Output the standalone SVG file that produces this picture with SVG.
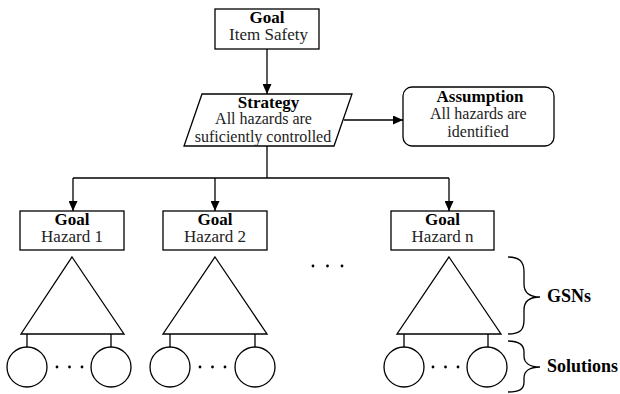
<svg xmlns="http://www.w3.org/2000/svg" width="620" height="394" viewBox="0 0 620 394">
<defs>
<marker id="ah" viewBox="0 0 10 10" refX="10" refY="5" markerWidth="10" markerHeight="9" markerUnits="userSpaceOnUse" orient="auto" preserveAspectRatio="none">
<path d="M0,0 L10,5 L0,10 z" fill="#000"/>
</marker>
<style>
.box{fill:#fff;stroke:#000;stroke-width:1.3}
.ln{fill:none;stroke:#000;stroke-width:1.3}
text{font-family:'Liberation Serif','Times New Roman',serif}
.t{font-size:17px;fill:#222;text-anchor:middle}
.s{font-size:16px;fill:#222;text-anchor:middle}
.b{font-size:17px;font-weight:bold;fill:#000;text-anchor:middle}
.bl{font-size:18px;font-weight:bold;fill:#000}
.dot{fill:#000}
</style>
</defs>
<g id="connectors">
<path class="ln" d="M267,49 V94" marker-end="url(#ah)"/>
<path class="ln" d="M344,120 H403" marker-end="url(#ah)"/>
<path class="ln" d="M267,146 V178"/>
<path class="ln" d="M73,178 H449"/>
<path class="ln" d="M73,178 V211" marker-end="url(#ah)"/>
<path class="ln" d="M215,178 V211" marker-end="url(#ah)"/>
<path class="ln" d="M449,178 V211" marker-end="url(#ah)"/>
</g>
<g id="goal-item">
<rect class="box" x="215" y="9" width="104" height="40"/>
<text class="b" x="267" y="22.5">Goal</text>
<text class="t" x="268.5" y="40">Item Safety</text>
</g>
<g id="strategy">
<polygon class="box" points="202,94 352,94 334,146 184,146"/>
<text class="b" x="268.5" y="107.5">Strategy</text>
<text class="s" x="263.5" y="124">All hazards are</text>
<text class="s" x="263" y="142">suficiently controlled</text>
</g>
<g id="assumption">
<rect class="box" x="403" y="87" width="151" height="59" rx="9"/>
<text class="b" x="480" y="101.5">Assumption</text>
<text class="s" x="478.3" y="119">All hazards are</text>
<text class="s" x="478" y="137">identified</text>
</g>
<g id="goal-h1">
<rect class="box" x="20" y="211" width="104" height="39"/>
<text class="b" x="72" y="224.5">Goal</text>
<text class="t" x="72" y="242">Hazard 1</text>
</g>
<g id="goal-h2">
<rect class="box" x="163" y="211" width="104" height="39"/>
<text class="b" x="215" y="224.5">Goal</text>
<text class="t" x="215" y="242">Hazard 2</text>
</g>
<g id="goal-hn">
<rect class="box" x="391" y="211" width="103" height="39"/>
<text class="b" x="442.5" y="224.5">Goal</text>
<text class="t" x="442.5" y="242">Hazard n</text>
</g>
<g id="gsn-1">
<polygon class="box" points="72,257 124,334 21,334"/>
<path class="ln" d="M27,334 V347 M111,334 V347"/>
<circle class="box" cx="27" cy="367" r="20"/>
<circle class="box" cx="111" cy="367" r="20"/>
<circle class="dot" cx="57" cy="367" r="1.4"/><circle class="dot" cx="69.5" cy="367" r="1.4"/><circle class="dot" cx="82" cy="367" r="1.4"/>
</g>
<g id="gsn-2">
<polygon class="box" points="215,257 267,334 163,334"/>
<path class="ln" d="M170,334 V347 M255,334 V347"/>
<circle class="box" cx="170" cy="367" r="20"/>
<circle class="box" cx="255" cy="367" r="20"/>
<circle class="dot" cx="200" cy="367" r="1.4"/><circle class="dot" cx="212.5" cy="367" r="1.4"/><circle class="dot" cx="225" cy="367" r="1.4"/>
</g>
<g id="gsn-n">
<polygon class="box" points="449,257 501,334 397,334"/>
<path class="ln" d="M404,334 V347 M488,334 V347"/>
<circle class="box" cx="404" cy="367" r="20"/>
<circle class="box" cx="487" cy="367" r="20"/>
<circle class="dot" cx="433" cy="367" r="1.4"/><circle class="dot" cx="445.5" cy="367" r="1.4"/><circle class="dot" cx="458" cy="367" r="1.4"/>
</g>
<g id="ellipsis">
<circle class="dot" cx="313" cy="266" r="1.4"/><circle class="dot" cx="327.5" cy="266" r="1.4"/><circle class="dot" cx="342" cy="266" r="1.4"/>
</g>
<g id="brace-gsns">
<path class="ln" d="M508,257 C520,257 524,262 524,272 V284 C524,293 530,297 540,297 C530,297 524,301 524,310 V320 C524,330 520,334 508,334"/>
<text class="bl" x="547" y="302">GSNs</text>
</g>
<g id="brace-solutions">
<path class="ln" d="M508,341 C520,341 524,345 524,352 V356 C524,363 530,367 540,367 C530,367 524,371 524,378 V382 C524,389 520,392 508,392"/>
<text class="bl" x="547" y="372">Solutions</text>
</g>
</svg>
